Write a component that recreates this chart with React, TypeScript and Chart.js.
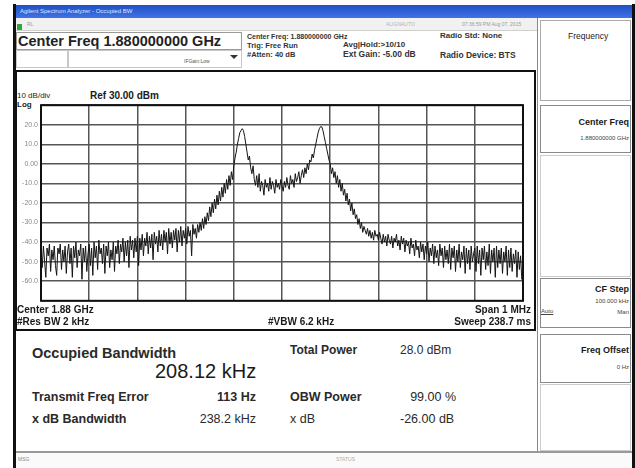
import React, { useEffect, useRef } from "react";
import { Chart, registerables } from "chart.js";

Chart.register(...registerables);

// Sweep: centre 1.88 GHz, span 1 MHz, offsets in kHz
const FREQ_START_KHZ = -500;
const FREQ_STEP_KHZ = 2.5;

// Trace amplitude (dBm), one every 2.5 kHz from -500 to +500 kHz
const TRACE_DBM = [
  -45, -53, -42, -50, -58, -43, -47, -41, -55, -44, -49, -42, -52, -57, -43, -46, -41, -54, -44, -50,
  -42, -56, -45, -41, -51, -43, -58, -42, -48, -40, -53, -44, -47, -41, -59, -43, -50, -42, -55, -46,
  -41, -52, -43, -57, -40, -48, -42, -54, -39, -46, -43, -51, -41, -56, -42, -47, -40, -53, -44, -49,
  -40, -55, -42, -46, -39, -51, -41, -45, -38, -50, -40, -47, -39, -53, -37, -44, -39, -48, -38, -45,
  -37, -52, -38, -44, -36, -47, -38, -42, -35, -46, -37, -43, -36, -49, -35, -41, -37, -45, -34, -42,
  -36, -44, -34, -40, -35, -46, -33, -41, -35, -43, -34, -39, -33, -45, -34, -40, -32, -42, -34, -38,
  -33, -41, -32, -37, -34, -47, -31, -36, -33, -38, -31, -35, -30, -34, -28, -33, -27, -31, -25, -29,
  -22, -27, -20, -25, -18, -23, -16, -21, -14, -19, -12, -17, -10, -15, -8, -13, -6, -11, -4, -8,
  -1, 3, 6, 10, 13, 16, 17, 18, 17, 14, 10, 6, 2, 4, -2, -5, -1, -8, -11, -6,
  -12, -5, -14, -9, -11, -16, -8, -12, -10, -14, -7, -13, -9, -11, -15, -8, -12, -10, -13, -8,
  -11, -14, -9, -12, -7, -11, -13, -6, -10, -8, -12, -5, -9, -7, -4, -10, -6, -3, -7, -2,
  -5, 0, -3, 2, 1, 5, 3, 7, 10, 13, 16, 18, 19, 19, 17, 14, 11, 8, 5, 2,
  0, -5, -2, -7, -4, -10, -6, -12, -8, -14, -10, -16, -13, -19, -15, -21, -18, -24, -20, -26,
  -23, -28, -26, -31, -28, -33, -30, -35, -32, -34, -36, -33, -37, -34, -38, -35, -39, -34, -37, -36,
  -39, -35, -38, -41, -36, -40, -37, -42, -36, -39, -41, -37, -43, -38, -40, -36, -42, -39, -44, -37,
  -41, -38, -45, -39, -42, -40, -46, -38, -43, -41, -47, -39, -44, -42, -48, -40, -45, -41, -49, -42,
  -46, -40, -50, -43, -47, -41, -51, -42, -48, -44, -52, -41, -47, -43, -53, -42, -49, -44, -51, -41,
  -54, -43, -48, -42, -55, -44, -50, -41, -53, -45, -49, -42, -56, -43, -51, -44, -54, -42, -50, -46,
  -43, -55, -42, -51, -44, -57, -43, -49, -42, -54, -45, -52, -41, -56, -44, -50, -43, -58, -42, -53,
  -44, -51, -43, -56, -45, -50, -42, -57, -44, -53, -43, -55, -46, -51, -44, -58, -45, -54, -47, -59,
  -57,
];

// Axis: reference level 30 dBm, 10 dB/div, 10 divisions
const REF_LEVEL_DBM = 30;
const BOTTOM_DBM = -70;
const DB_PER_DIV = 10;
const Y_TICK_VALUES = [20, 10, 0, -10, -20, -30, -40, -50, -60];
const Y_TICK_LABELS = ["20.0", "10.0", "0.00", "-10.0", "-20.0", "-30.0", "-40.0", "-50.0", "-60.0"];

const FONT = '"Liberation Sans", Arial, sans-serif';

type TProps = {
  x: number;
  y: number;
  size: number;
  bold?: boolean;
  right?: boolean;
  color?: string;
  children: React.ReactNode;
  weight?: number;
};

function T({ x, y, size, bold, right, color, children, weight }: TProps) {
  const style: React.CSSProperties = {
    position: "absolute",
    top: y - size * 0.58,
    fontSize: size,
    lineHeight: `${size}px`,
    fontFamily: FONT,
    fontWeight: weight ?? (bold ? 700 : 400),
    color: color ?? "#1a1a1a",
    whiteSpace: "nowrap",
  };
  if (right) style.right = 635 - x;
  else style.left = x;
  return <div style={style}>{children}</div>;
}

function Box({ x, y, w, h, border, bg }: { x: number; y: number; w: number; h: number; border?: string; bg?: string }) {
  return (
    <div
      style={{
        position: "absolute",
        left: x,
        top: y,
        width: w,
        height: h,
        boxSizing: "border-box",
        border: border ?? "1px solid #8a8a8a",
        background: bg ?? "transparent",
      }}
    />
  );
}

function SpectrumChart() {
  const ref = useRef<HTMLCanvasElement | null>(null);
  useEffect(() => {
    if (!ref.current) return;
    const points = TRACE_DBM.map((v, i) => ({ x: FREQ_START_KHZ + i * FREQ_STEP_KHZ, y: v }));
    const framePlugin = {
      id: "frame",
      afterDraw(chart: any) {
        const { ctx, chartArea } = chart;
        ctx.save();
        ctx.strokeStyle = "#111";
        ctx.lineWidth = 2;
        ctx.strokeRect(chartArea.left, chartArea.top, chartArea.right - chartArea.left, chartArea.bottom - chartArea.top);
        ctx.restore();
      },
    };
    const chart = new Chart(ref.current, {
      type: "line",
      data: {
        datasets: [
          {
            data: points,
            borderColor: "#151515",
            borderWidth: 1,
            pointRadius: 0,
            tension: 0,
            fill: false,
          },
        ],
      },
      options: {
        animation: false,
        responsive: false,
        maintainAspectRatio: false,
        layout: { padding: { left: 0, top: 5, right: 13, bottom: 6 } },
        plugins: { legend: { display: false }, tooltip: { enabled: false } },
        scales: {
          x: {
            type: "linear",
            min: FREQ_START_KHZ,
            max: -FREQ_START_KHZ,
            ticks: { display: false, stepSize: 100 },
            grid: { color: "#555", lineWidth: 1.5, drawTicks: false },
            border: { display: false },
          },
          y: {
            min: BOTTOM_DBM,
            max: REF_LEVEL_DBM,
            ticks: {
              stepSize: DB_PER_DIV,
              padding: 3,
              color: "#8a8a8a",
              font: { size: 7, family: FONT },
              callback: (v: any) => {
                const idx = Y_TICK_VALUES.indexOf(Number(v));
                return idx >= 0 ? Y_TICK_LABELS[idx] : "";
              },
            },
            grid: { color: "#555", lineWidth: 1.5, drawTicks: false },
            border: { display: false },
            afterFit: (s: any) => {
              s.width = 25;
            },
          },
        },
      },
      plugins: [framePlugin],
    });
    return () => chart.destroy();
  }, []);
  return (
    <canvas
      ref={ref}
      width={520}
      height={210}
      style={{ position: "absolute", left: 16, top: 98, width: 520, height: 210 }}
    />
  );
}

export default function App() {
  return (
    <div
      style={{
        position: "fixed",
        left: 0,
        top: 0,
        width: 635,
        height: 468,
        background: "#fff",
        overflow: "hidden",
        fontFamily: FONT,
      }}
    >
      {/* window frame */}
      <div style={{ position: "absolute", left: 13, top: 4, width: 3, height: 464, background: "#111" }} />
      <div style={{ position: "absolute", left: 632, top: 4, width: 3, height: 464, background: "#111" }} />
      {/* title bar */}
      <div
        style={{
          position: "absolute",
          left: 16,
          top: 5,
          width: 616,
          height: 13,
          background: "linear-gradient(#1f4fc4, #3f73e6)",
        }}
      />
      <T x={20} y={11} size={6} color="#dfe8ff">Agilent Spectrum Analyzer - Occupied BW</T>
      {/* status row */}
      <div style={{ position: "absolute", left: 16, top: 18, width: 521, height: 12, background: "#f1f1f1", borderBottom: "1px solid #cfcfcf" }} />
      <div style={{ position: "absolute", left: 17, top: 24, width: 5, height: 6, background: "#2fa83a" }} />
      <T x={27} y={25} size={5} color="#9a9a9a">RL</T>
      <T x={386} y={25} size={5} color="#b5b5b5">ALIGNAUTO</T>
      <T x={462} y={25} size={5} color="#9a9a9a">07:36:59 PM Aug 07, 2015</T>

      {/* centre freq box */}
      <Box x={16} y={32} w={226} h={18} border="1px solid #9a9a9a" />
      <T x={18} y={42} size={14.5} weight={700} color="#222">Center Freq 1.880000000 GHz</T>
      <Box x={16} y={50} w={52} h={18} border="1px solid #c8c8c8" />
      <Box x={68} y={50} w={174} h={18} border="1px solid #c8c8c8" />
      <T x={184} y={62} size={5} color="#555">IFGain:Low</T>
      <div style={{ position: "absolute", left: 230, top: 55, width: 0, height: 0, borderLeft: "4px solid transparent", borderRight: "4px solid transparent", borderTop: "4px solid #333" }} />

      {/* info block */}
      <T x={247} y={37} size={7} weight={700} color="#333">Center Freq: 1.880000000 GHz</T>
      <T x={247} y={46} size={7.5} weight={700} color="#333">Trig: Free Run</T>
      <T x={247} y={55} size={7.5} weight={700} color="#333">#Atten: 40 dB</T>
      <T x={343} y={46} size={8} weight={700} color="#333">Avg|Hold:&gt;10/10</T>
      <T x={343} y={55} size={8.5} weight={700} color="#333">Ext Gain: -5.00 dB</T>
      <T x={440} y={37} size={8} weight={700} color="#333">Radio Std: None</T>
      <T x={440} y={56} size={8.5} weight={700} color="#333">Radio Device: BTS</T>

      {/* chart frame */}
      <div style={{ position: "absolute", left: 15, top: 70, width: 521, height: 261, boxSizing: "border-box", border: "2px solid #111" }} />
      <T x={17} y={97} size={8}>10 dB/div</T>
      <T x={90} y={97} size={10} bold>Ref 30.00 dBm</T>
      <T x={17} y={106} size={8} bold>Log</T>
      <SpectrumChart />
      <T x={17} y={311} size={10} bold>Center  1.88 GHz</T>
      <T x={17} y={323} size={10} bold>#Res BW  2 kHz</T>
      <T x={268} y={323} size={10} bold>#VBW  6.2 kHz</T>
      <T x={531} y={311} size={10} bold right>Span 1 MHz</T>
      <T x={531} y={323} size={10} bold right>Sweep  238.7 ms</T>

      {/* measurement results */}
      <T x={32} y={354} size={14.5} bold color="#2a2a2a">Occupied Bandwidth</T>
      <T x={155} y={373} size={20} color="#1a1a1a">208.12 kHz</T>
      <T x={290} y={351} size={12} bold color="#2a2a2a">Total Power</T>
      <T x={400} y={351} size={12} color="#2a2a2a">28.0 dBm</T>
      <T x={32} y={398} size={12.5} bold color="#2a2a2a">Transmit Freq Error</T>
      <T x={256} y={398} size={12.5} bold right color="#2a2a2a">113 Hz</T>
      <T x={290} y={398} size={12.5} bold color="#2a2a2a">OBW Power</T>
      <T x={456} y={398} size={12.5} right color="#2a2a2a">99.00 %</T>
      <T x={32} y={420} size={12.5} bold color="#2a2a2a">x dB Bandwidth</T>
      <T x={256} y={420} size={12.5} right color="#2a2a2a">238.2 kHz</T>
      <T x={290} y={420} size={12.5} color="#2a2a2a">x dB</T>
      <T x={400} y={420} size={12.5} color="#2a2a2a">-26.00 dB</T>

      {/* status bar */}
      <div style={{ position: "absolute", left: 16, top: 451, width: 616, height: 2, background: "#9a9a9a" }} />
      <div style={{ position: "absolute", left: 16, top: 453, width: 616, height: 15, background: "#fafafa" }} />
      <T x={18} y={460} size={5} color="#888">MSG</T>
      <T x={336} y={460} size={5} color="#aaa">STATUS</T>

      {/* right soft-key panel */}
      <div style={{ position: "absolute", left: 537, top: 18, width: 1, height: 433, background: "#888" }} />
      <Box x={540} y={20} w={91} h={81} border="1px solid #aaa" />
      <T x={568} y={37} size={8.5} color="#222">Frequency</T>
      <Box x={540} y={105} w={91} h={48} />
      <T x={629} y={123} size={9} bold right>Center Freq</T>
      <T x={629} y={138} size={6} right color="#444">1.880000000 GHz</T>
      <Box x={540} y={155} w={91} h={122} border="1px solid #ccc" />
      <Box x={540} y={278} w={91} h={50} />
      <T x={629} y={290} size={9} bold right>CF Step</T>
      <T x={629} y={301} size={6} right color="#444">100.000 kHz</T>
      <div style={{ position: "absolute", left: 541, top: 308, fontSize: 6, lineHeight: "6px", fontFamily: FONT, color: "#444", textDecoration: "underline" }}>Auto</div>
      <T x={629} y={312} size={6} right color="#444">Man</T>
      <Box x={540} y={334} w={91} h={49} />
      <T x={629} y={351} size={9} bold right>Freq Offset</T>
      <T x={629} y={367} size={6} right color="#444">0 Hz</T>
      <Box x={540} y={384} w={91} h={67} border="1px solid #ccc" />
    </div>
  );
}
